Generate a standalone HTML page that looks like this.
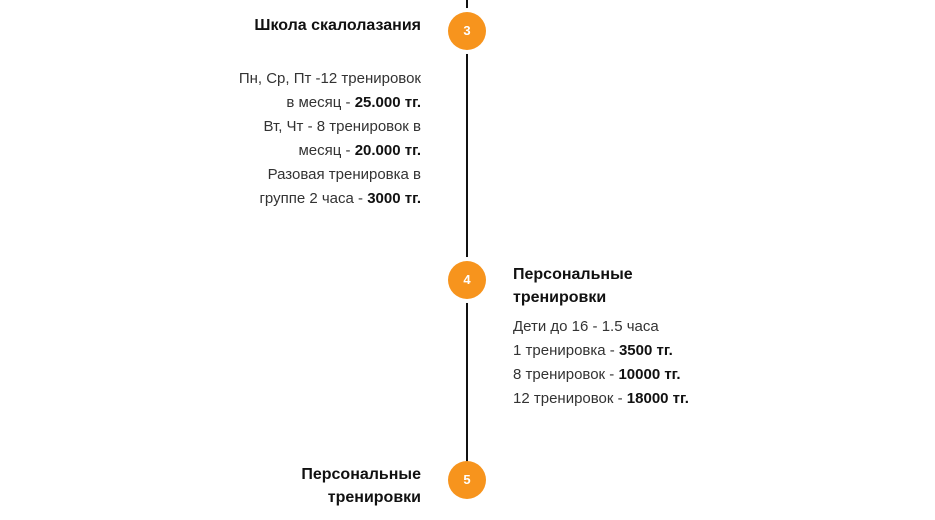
<!DOCTYPE html>
<html><head><meta charset="utf-8"><style>
body{margin:0;width:935px;height:520px;background:#fff;position:relative;overflow:hidden;font-family:"Liberation Sans","Noto Sans CJK SC",sans-serif;}
.line{position:absolute;left:466px;top:0;width:2px;height:462px;background:#111;}
.c{position:absolute;width:38px;height:38px;border-radius:50%;background:#f7941d;color:#fff;font-weight:bold;font-size:13px;text-align:center;line-height:38px;box-shadow:0 0 0 4px #fff;}
.t{position:absolute;font-weight:bold;font-size:16px;color:#111;line-height:23px;white-space:nowrap;}
.b{position:absolute;font-size:15px;color:#333;line-height:24px;white-space:nowrap;}
.b b{color:#111;}
.r{text-align:right;}
</style></head><body>
<div class="line"></div>
<div class="c" style="left:448px;top:12px">3</div>
<div class="c" style="left:448px;top:261px">4</div>
<div class="c" style="left:448px;top:461px;box-shadow:none">5</div>
<div class="t r" style="right:514px;top:14px">Школа скалолазания</div>
<div class="b r" style="right:514px;top:67px">Пн, Ср, Пт -12 тренировок<br>в месяц - <b>25.000 тг.</b><br>Вт, Чт - 8 тренировок в<br>месяц - <b>20.000 тг.</b><br>Разовая тренировка в<br>группе 2 часа - <b>3000 тг.</b></div>
<div class="t" style="left:513px;top:263px">Персональные<br>тренировки</div>
<div class="b" style="left:513px;top:315px">Дети до 16 - 1.5 часа<br>1 тренировка - <b>3500 тг.</b><br>8 тренировок - <b>10000 тг.</b><br>12 тренировок - <b>18000 тг.</b></div>
<div class="t r" style="right:514px;top:463px">Персональные<br>тренировки</div>
</body></html>
